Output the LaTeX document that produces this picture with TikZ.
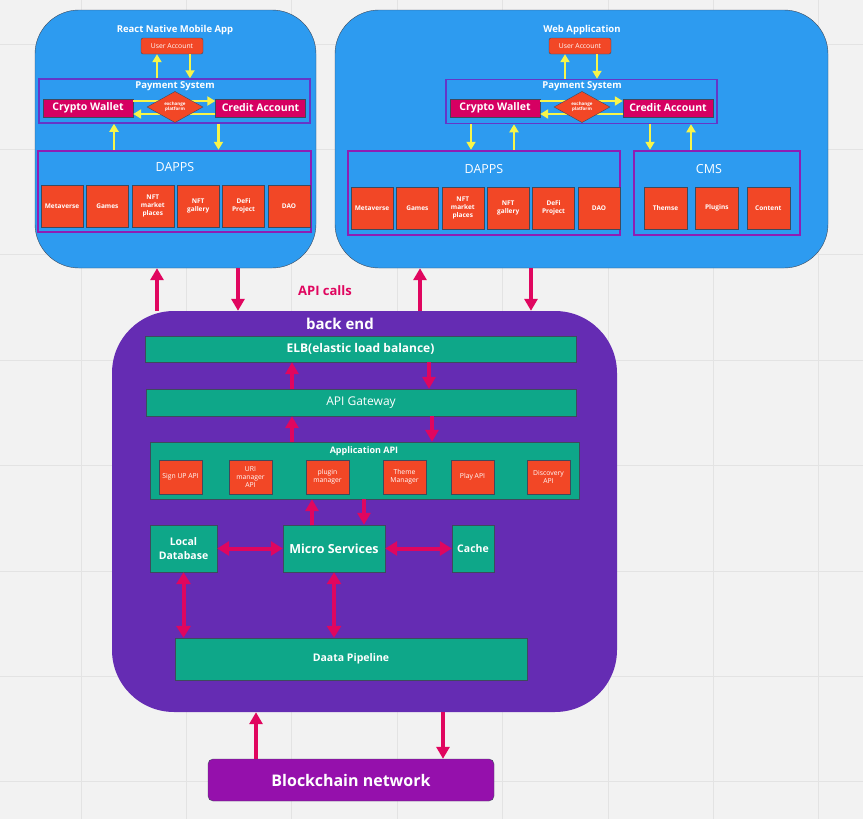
\documentclass[tikz,border=0pt]{standalone}
\usepackage{fontspec}
\setmainfont{Open Sans}
\usetikzlibrary{arrows.meta,positioning,shapes.geometric}
\definecolor{bgGray}{HTML}{F2F2F2}
\definecolor{gridGray}{HTML}{E3E3E3}
\definecolor{appBlue}{HTML}{2D9BF0}
\definecolor{edgeGray}{HTML}{3E4A5C}
\definecolor{payLine}{HTML}{6536C8}
\definecolor{grpLine}{HTML}{8E1DB4}
\definecolor{tileRed}{HTML}{F24726}
\definecolor{walletPink}{HTML}{D60062}
\definecolor{arrowPink}{HTML}{E0065F}
\definecolor{arrowYellow}{HTML}{F7F54A}
\definecolor{backPurple}{HTML}{652CB3}
\definecolor{svcTeal}{HTML}{0EA789}
\definecolor{chainPurple}{HTML}{9510AC}

\begin{document}
\begin{tikzpicture}[
    x=1pt, y=-1pt,
    every node/.style={text=white, inner sep=0pt},
    app/.style={draw=edgeGray, fill=appBlue, rounded corners=44pt},
    backend/.style={fill=backPurple, rounded corners=62pt},
    apptitle/.style={font=\bfseries\fontsize{9.5}{10}\selectfont},
    account/.style={draw=edgeGray, fill=tileRed, rounded corners=2pt, minimum width=62pt, minimum height=16pt, font=\fontsize{6.8}{7}\selectfont},
    payment/.style={draw=payLine, line width=1.5pt, minimum width=271pt, minimum height=44pt},
    wallet/.style={draw=edgeGray, fill=walletPink, minimum width=90pt, minimum height=18pt, font=\bfseries\fontsize{10.5}{12}\selectfont},
    exchange/.style={diamond, draw=edgeGray, fill=tileRed, minimum width=56pt, minimum height=31pt, align=center, font=\bfseries\fontsize{4.5}{5.5}\selectfont},
    group/.style={draw=grpLine, line width=2.5pt},
    grouplabel/.style={font=\fontsize{12.5}{14}\selectfont},
    tile/.style={draw=edgeGray, fill=tileRed, minimum width=42pt, minimum height=42pt, align=center, font=\bfseries\fontsize{6.5}{8}\selectfont},
    apitile/.style={draw=edgeGray, fill=tileRed, minimum width=43pt, minimum height=34pt, align=center, font=\fontsize{6.8}{8}\selectfont},
    service/.style={draw=edgeGray, fill=svcTeal, align=center},
    yflow/.style={-{Triangle[length=8pt, width=9pt]}, draw=arrowYellow, line width=2.2pt},
    pflow/.style={-{Triangle[length=12pt, width=13pt]}, draw=arrowPink, line width=4pt},
    pboth/.style={{Triangle[length=12pt, width=14pt]}-{Triangle[length=12pt, width=14pt]}, draw=arrowPink, line width=4pt}
]
% background grid
\fill[bgGray] (0,0) rectangle (863,819);
\useasboundingbox (0,0) rectangle (863,819);
\foreach \k in {0,...,7} {
  \draw[gridGray, line width=1pt] (81+105.4*\k,0) -- (81+105.4*\k,819);
  \draw[gridGray, line width=1pt] (0,44+105.4*\k) -- (863,44+105.4*\k);
}

% mobile app
\node[app, minimum width=281pt, minimum height=258pt] (mApp) at (175.5,139) {};
\node[apptitle] (mTitle) at (175,30) {React Native Mobile App};
\node[account] (mUser) at (172,46) {User Account};
\node[payment] (mPay) at (174.5,101) {};
\node[apptitle] (mPayTitle) at (175,86) {Payment System};
\node[wallet] (mCrypto) at (88,108) {Crypto Wallet};
\node[wallet] (mCredit) at (260.5,108) {Credit Account};
\draw[yflow] ([yshift=7pt]mCrypto.east) -- ([yshift=7pt]mCredit.west);
\draw[yflow] ([yshift=-6pt]mCredit.west) -- ([yshift=-6pt]mCrypto.east);
\node[exchange] (mExchange) at (175,107) {exchange\\platform};
\node[group, minimum width=273pt, minimum height=81pt] (mDapps) at (174.5,191.5) {};
\node[grouplabel] (mDappsLabel) at (175,167) {DAPPS};
\node[tile] (mMeta) at (62,206) {Metaverse};
\node[tile, right=3pt of mMeta] (mGames) {Games};
\node[tile, right=3pt of mGames] (mMarket) {NFT\\market\\places};
\node[tile, right=3pt of mMarket] (mGallery) {NFT\\gallery};
\node[tile, right=3pt of mGallery] (mDefi) {DeFi\\Project};
\node[tile, right=3pt of mDefi] (mDao) {DAO};
\draw[yflow] ([xshift=-15pt]mUser.south |- mPay.north) -- ([xshift=-15pt]mUser.south);
\draw[yflow] ([xshift=18pt]mUser.south) -- ([xshift=18pt]mUser.south |- mPay.north);
\draw[yflow] ([xshift=26pt]mCrypto.south |- mDapps.north) -- ([xshift=26pt]mCrypto.south |- mPay.south);
\draw[yflow] ([xshift=-42pt]mCredit.south |- mPay.south) -- ([xshift=-42pt]mCredit.south |- mDapps.north);

% web application
\node[app, minimum width=493pt, minimum height=258pt] (wApp) at (581.5,139) {};
\node[apptitle] (wTitle) at (582,30) {Web Application};
\node[account] (wUser) at (580,46) {User Account};
\node[payment] (wPay) at (581.5,101.5) {};
\node[apptitle] (wPayTitle) at (582,86) {Payment System};
\node[wallet] (wCrypto) at (495,108) {Crypto Wallet};
\node[wallet] (wCredit) at (668,108) {Credit Account};
\draw[yflow] ([yshift=7pt]wCrypto.east) -- ([yshift=7pt]wCredit.west);
\draw[yflow] ([yshift=-6pt]wCredit.west) -- ([yshift=-6pt]wCrypto.east);
\node[exchange] (wExchange) at (582,107) {exchange\\platform};
\node[group, minimum width=272pt, minimum height=84pt] (wDapps) at (484,193) {};
\node[grouplabel] (wDappsLabel) at (484,169) {DAPPS};
\node[tile] (wMeta) at (372,208) {Metaverse};
\node[tile, right=3pt of wMeta] (wGames) {Games};
\node[tile, right=3pt of wGames] (wMarket) {NFT\\market\\places};
\node[tile, right=3pt of wMarket] (wGallery) {NFT\\gallery};
\node[tile, right=3pt of wGallery] (wDefi) {DeFi\\Project};
\node[tile, right=3pt of wDefi] (wDao) {DAO};
\node[group, minimum width=166pt, minimum height=84pt] (wCms) at (717,193) {};
\node[grouplabel] (wCmsLabel) at (709,169) {CMS};
\node[tile, minimum width=43pt] (wThemes) at (665.5,208) {Themse};
\node[tile, minimum width=43pt, right=8pt of wThemes] (wPlugins) {Plugins};
\node[tile, minimum width=43pt, right=8pt of wPlugins] (wContent) {Content};
\draw[yflow] ([xshift=-15pt]wUser.south |- wPay.north) -- ([xshift=-15pt]wUser.south);
\draw[yflow] ([xshift=17pt]wUser.south) -- ([xshift=17pt]wUser.south |- wPay.north);
\draw[yflow] ([xshift=-24pt]wCrypto.south |- wPay.south) -- ([xshift=-24pt]wCrypto.south |- wDapps.north);
\draw[yflow] ([xshift=19pt]wCrypto.south |- wDapps.north) -- ([xshift=19pt]wCrypto.south |- wPay.south);
\draw[yflow] ([xshift=-18pt]wCredit.south |- wPay.south) -- ([xshift=-18pt]wCredit.south |- wCms.north);
\draw[yflow] ([xshift=23pt]wCredit.south |- wCms.north) -- ([xshift=23pt]wCredit.south |- wPay.south);

% back end
\node[backend, minimum width=505pt, minimum height=401pt] (back) at (364.5,511.5) {};
\node[font=\bfseries\fontsize{15}{17}\selectfont] (backTitle) at (340,324) {back end};
\node[service, minimum width=431pt, minimum height=26pt, font=\bfseries\fontsize{12}{14}\selectfont] (elb) at (360.5,349) {ELB(elastic load balance)};
\node[service, minimum width=430pt, minimum height=27pt, font=\fontsize{12}{14}\selectfont] (gate) at (361,402.5) {API Gateway};
\node[service, minimum width=429pt, minimum height=57pt] (appApi) at (364.5,470.5) {};
\node[font=\bfseries\fontsize{9}{10}\selectfont] (appApiTitle) at (364,451) {Application API};
\node[apitile] (signup) at (180.5,477) {Sign UP API};
\node[apitile] (uriApi) at (250.5,477) {URI\\manager\\API};
\node[apitile] (pluginApi) at (327.5,477) {plugin\\manager};
\node[apitile] (themeApi) at (404.5,477) {Theme\\Manager};
\node[apitile] (playApi) at (472.5,477) {Play API};
\node[apitile] (discApi) at (548.5,477) {Discovery\\API};
\node[service, minimum width=67pt, minimum height=47pt, font=\bfseries\fontsize{10.5}{13.5}\selectfont] (localDb) at (183.5,548.5) {Local\\Database};
\node[service, minimum width=102pt, minimum height=47pt, font=\bfseries\fontsize{12.5}{14}\selectfont] (micro) at (334,548.5) {Micro Services};
\node[service, minimum width=42pt, minimum height=47pt, font=\bfseries\fontsize{10.5}{12}\selectfont] (cache) at (473,548.5) {Cache};
\node[service, minimum width=352pt, minimum height=42pt, font=\bfseries\fontsize{10.5}{12}\selectfont] (pipeline) at (351,659) {Daata Pipeline};
\draw[pflow] ([xshift=-68.5pt]elb.south |- gate.north) -- ([xshift=-68.5pt]elb.south);
\draw[pflow] ([xshift=68.5pt]elb.south) -- ([xshift=68.5pt]elb.south |- gate.north);
\draw[pflow] ([xshift=-69pt]gate.south |- appApi.north) -- ([xshift=-69pt]gate.south);
\draw[pflow] ([xshift=71pt]gate.south) -- ([xshift=71pt]gate.south |- appApi.north);
\draw[pflow] ([xshift=-22pt]micro.north) -- ([xshift=-22pt]micro.north |- appApi.south);
\draw[pflow] ([xshift=30pt]micro.north |- appApi.south) -- ([xshift=30pt]micro.north);
\draw[pboth] (localDb.east) -- (micro.west);
\draw[pboth] (micro.east) -- (cache.west);
\draw[pboth] (localDb.south) -- (localDb.south |- pipeline.north);
\draw[pboth] (micro.south) -- (micro.south |- pipeline.north);

% api calls between apps and back end
\node[text=arrowPink, font=\bfseries\fontsize{13}{15}\selectfont] (apiCalls) at (325,291) {API calls};
\draw[pflow] ([xshift=-18.5pt]mApp.south |- back.north) -- ([xshift=-18.5pt]mApp.south);
\draw[pflow] ([xshift=62.5pt]mApp.south) -- ([xshift=62.5pt]mApp.south |- back.north);
\draw[pflow] ([xshift=-161.5pt]wApp.south |- back.north) -- ([xshift=-161.5pt]wApp.south);
\draw[pflow] ([xshift=-50.5pt]wApp.south) -- ([xshift=-50.5pt]wApp.south |- back.north);

% blockchain
\node[draw=edgeGray, fill=chainPurple, rounded corners=5pt, minimum width=286pt, minimum height=42pt, font=\bfseries\fontsize{16}{18}\selectfont] (chain) at (351,780) {Blockchain network};
\draw[pflow] ([xshift=-95pt]chain.north) -- ([xshift=-95pt]chain.north |- back.south);
\draw[pflow] ([xshift=92pt]chain.north |- back.south) -- ([xshift=92pt]chain.north);
\end{tikzpicture}
\end{document}
